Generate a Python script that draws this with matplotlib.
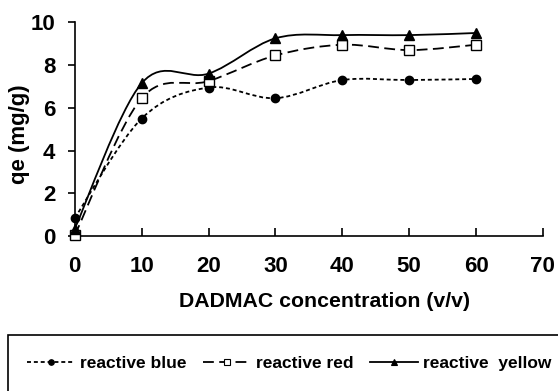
import matplotlib
matplotlib.use("Agg")
import matplotlib.pyplot as plt
from matplotlib.path import Path
from matplotlib.patches import PathPatch, Rectangle
from matplotlib.lines import Line2D

conc = [0, 10, 20, 30, 40, 50, 60]
qe_blue = [0.85, 5.5, 6.95, 6.45, 7.3, 7.3, 7.35]
qe_red = [0.05, 6.45, 7.25, 8.45, 8.95, 8.7, 8.95]
qe_yellow = [0.35, 7.15, 7.6, 9.25, 9.4, 9.4, 9.5]
labels = ["reactive blue", "reactive red", "reactive  yellow"]

plt.rcParams['font.family'] = ['Liberation Sans', 'DejaVu Sans']
plt.rcParams['font.weight'] = 'bold'


def smooth_path(x, y):
    # smoothed line like Excel: cubic Bezier through the points
    verts = [(x[0], y[0])]
    codes = [Path.MOVETO]
    n = len(x)
    for i in range(n - 1):
        x0, y0 = (x[i - 1], y[i - 1]) if i > 0 else (x[i], y[i])
        x3, y3 = (x[i + 2], y[i + 2]) if i + 2 < n else (x[i + 1], y[i + 1])
        c1 = (x[i] + (x[i + 1] - x0) / 6, y[i] + (y[i + 1] - y0) / 6)
        c2 = (x[i + 1] - (x3 - x[i]) / 6, y[i + 1] - (y3 - y[i]) / 6)
        verts += [c1, c2, (x[i + 1], y[i + 1])]
        codes += [Path.CURVE4] * 3
    return Path(verts, codes)


fig = plt.figure(figsize=(5.58, 3.91), dpi=100)
ax = fig.add_axes([0.134, 0.396, 0.839, 0.547])

styles = [
    (qe_blue, dict(ls=(0, (2.2, 1.6)), marker='o', mfc='black', ms=6)),
    (qe_red, dict(ls=(0, (6, 3)), marker='s', mfc='white', ms=7)),
    (qe_yellow, dict(ls='-', marker='^', mfc='black', ms=7)),
]
handles = []
for (vals, st), lab in zip(styles, labels):
    patch = PathPatch(smooth_path(conc, vals), facecolor='none', edgecolor='black',
                      lw=1.3, linestyle=st['ls'], zorder=2)
    ax.add_patch(patch)
    ax.plot(conc, vals, ls='none', marker=st['marker'], mfc=st['mfc'], mec='black',
            mew=1, ms=st['ms'], zorder=3, clip_on=False)
    handles.append(Line2D([], [], color='black', lw=1.3, ls=st['ls'], marker=st['marker'],
                          mfc=st['mfc'], mec='black', mew=0.8, ms=st['ms'] - 2, label=lab))

ax.set_xlim(0, 70)
ax.set_ylim(0, 10)
ax.set_xticks(range(0, 71, 10))
ax.set_yticks(range(0, 11, 2))
ax.spines['top'].set_visible(False)
ax.spines['right'].set_visible(False)
ax.spines['left'].set_linewidth(1.2)
ax.spines['bottom'].set_linewidth(1.2)
ax.tick_params(axis='x', direction='in', length=6, width=1.2, labelsize=16, pad=14)
ax.tick_params(axis='y', direction='out', length=5, width=1.2, labelsize=16, pad=9)
for t in ax.get_xticklabels() + ax.get_yticklabels():
    t.set_fontweight('bold')
ax.set_xlabel("DADMAC concentration (v/v)", fontsize=15.3, fontweight='bold')
ax.set_ylabel("qe (mg/g)", fontsize=16, fontweight='bold')
ax.xaxis.set_label_coords(0.534, -0.262)
ax.yaxis.set_label_coords(-0.095, 0.477)

# legend box: only its top and left edges fall inside the picture
fig.patches.append(Rectangle((8 / 558, -0.05), 1.0, (391 - 335) / 391 + 0.05,
                             transform=fig.transFigure, facecolor='none',
                             edgecolor='black', lw=1.2))
leg = fig.legend(handles=handles, loc='center left', ncol=3,
                 bbox_to_anchor=(27 / 558, (391 - 363) / 391), fontsize=12.5,
                 frameon=False, handlelength=2.75, handletextpad=0.3,
                 columnspacing=0.95, borderpad=0, borderaxespad=0)
for t in leg.get_texts():
    t.set_fontweight('bold')

fig.savefig("out.png", dpi=100)
